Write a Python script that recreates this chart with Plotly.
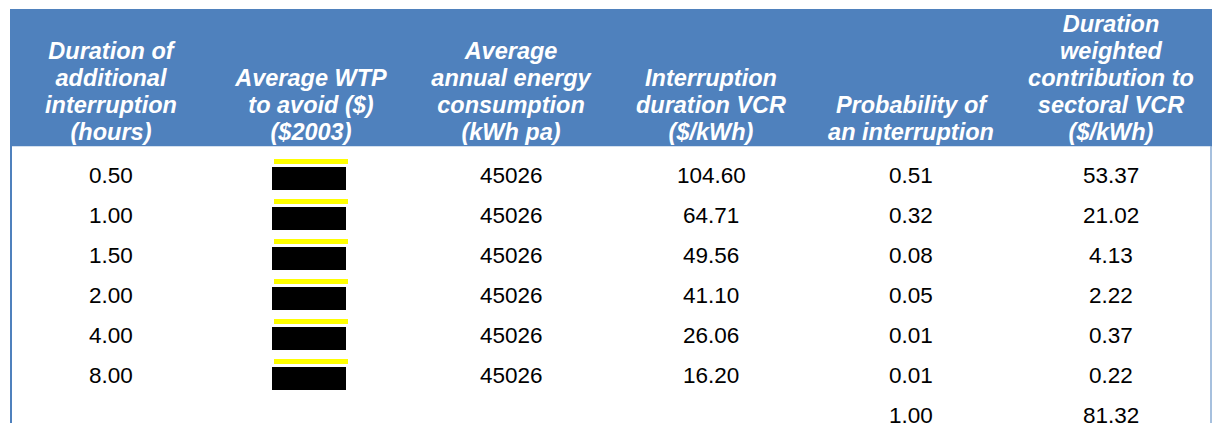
import plotly.graph_objects as go

# ---- data ----
headers = [
    ["Duration of", "additional", "interruption", "(hours)"],
    ["Average WTP", "to avoid ($)", "($2003)"],
    ["Average", "annual energy", "consumption", "(kWh pa)"],
    ["Interruption", "duration VCR", "($/kWh)"],
    ["Probability of", "an interruption"],
    ["Duration", "weighted", "contribution to", "sectoral VCR", "($/kWh)"],
]
durations = ["0.50", "1.00", "1.50", "2.00", "4.00", "8.00"]
energy = [45026, 45026, 45026, 45026, 45026, 45026]
vcr = [104.60, 64.71, 49.56, 41.10, 26.06, 16.20]
probability = [0.51, 0.32, 0.08, 0.05, 0.01, 0.01]
contribution = [53.37, 21.02, 4.13, 2.22, 0.37, 0.22]
probability_total = 1.00
contribution_total = 81.32

# ---- layout constants ----
W, H = 1212, 423
BLUE = "#4F81BD"
FONT = "Liberation Sans, Arial, sans-serif"
col_x = [111, 311, 511, 711, 911, 1111]
header_last_baseline = 142
header_line_step = 27
row_y0 = 175
row_step = 40
head_size = 23.5
body_size = 22.5

fig = go.Figure()

# header text lines (bottom aligned)
hx, hy, ht = [], [], []
for ci, lines in enumerate(headers):
    n = len(lines)
    for li, line in enumerate(lines):
        baseline = header_last_baseline - (n - 1 - li) * header_line_step
        hx.append(col_x[ci])
        hy.append(baseline - 0.35 * head_size)
        ht.append(line)
fig.add_trace(go.Scatter(
    x=hx, y=hy, text=ht, mode="text", textposition="middle center",
    textfont=dict(family=FONT, size=head_size, color="white", weight="bold", style="italic"),
    hoverinfo="skip", showlegend=False,
))

shapes = []
# header background
shapes.append(dict(type="rect", xref="x", yref="y", x0=10, x1=1212, y0=9, y1=146.5,
                   fillcolor=BLUE, line_width=0, layer="below"))
# white body (above header text to clip descenders)
shapes.append(dict(type="rect", xref="x", yref="y", x0=12, x1=1210.5, y0=146.5, y1=H,
                   fillcolor="white", line_width=0, layer="above"))
# left border
shapes.append(dict(type="rect", xref="x", yref="y", x0=10, x1=12, y0=140, y1=H,
                   fillcolor=BLUE, line_width=0, layer="above"))
# right border
shapes.append(dict(type="line", xref="x", yref="y", x0=1211, x1=1211, y0=146.5, y1=H,
                   line=dict(color=BLUE, width=1), layer="above"))

# redaction boxes in WTP column
for r in range(len(durations)):
    yc = row_y0 + r * row_step
    shapes.append(dict(type="rect", xref="x", yref="y", x0=274, x1=348, y0=yc - 16, y1=yc - 11,
                       fillcolor="#FFFF00", line_width=0, layer="above"))
    shapes.append(dict(type="rect", xref="x", yref="y", x0=272, x1=346, y0=yc - 8, y1=yc + 15,
                       fillcolor="black", line_width=0, layer="above"))

# body values as annotations
annotations = []
def cell(ci, r, txt):
    annotations.append(dict(x=col_x[ci], y=row_y0 + r * row_step, xref="x", yref="y",
                            text=txt, showarrow=False, xanchor="center", yanchor="middle",
                            font=dict(family=FONT, size=body_size, color="black")))

for r in range(len(durations)):
    cell(0, r, durations[r])
    cell(2, r, str(energy[r]))
    cell(3, r, f"{vcr[r]:.2f}")
    cell(4, r, f"{probability[r]:.2f}")
    cell(5, r, f"{contribution[r]:.2f}")
cell(4, len(durations), f"{probability_total:.2f}")
cell(5, len(durations), f"{contribution_total:.2f}")

fig.update_layout(
    width=W, height=H,
    margin=dict(l=0, r=0, t=0, b=0),
    paper_bgcolor="white", plot_bgcolor="white",
    xaxis=dict(range=[0, W], visible=False, fixedrange=True),
    yaxis=dict(range=[H, 0], visible=False, fixedrange=True),
    shapes=shapes, annotations=annotations,
    showlegend=False,
)
fig.write_html(
    "out.html",
    config={"displayModeBar": False},
    post_script="document.body.style.margin='0';document.body.style.overflow='hidden';",
)
